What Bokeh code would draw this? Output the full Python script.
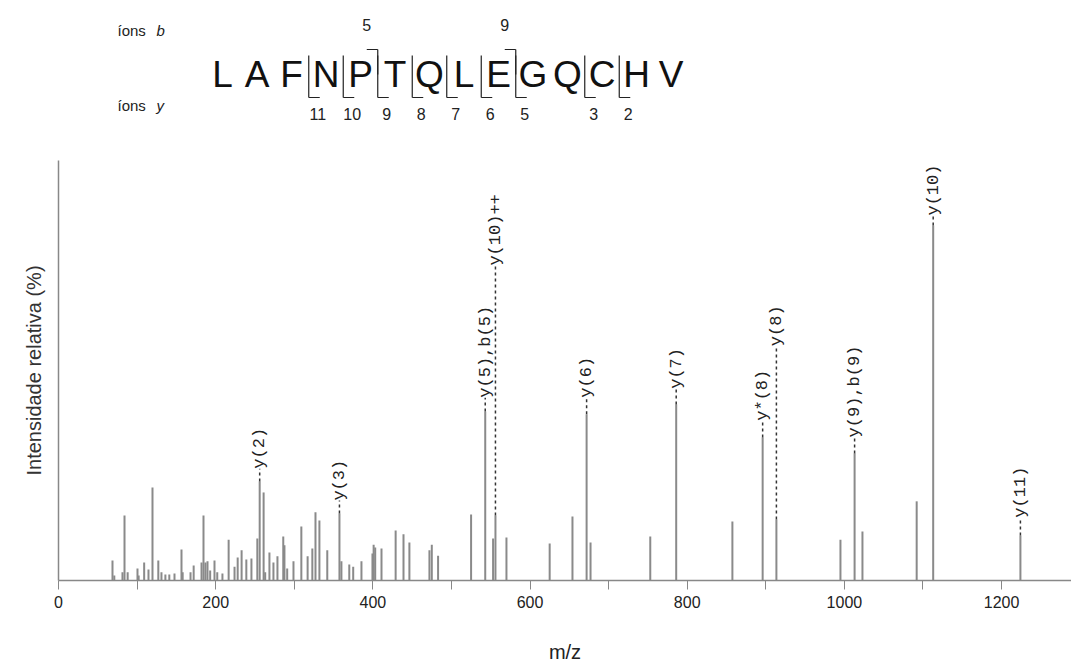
import math
from bokeh.plotting import figure
from bokeh.models import Range1d, FixedTicker
from bokeh.layouts import column
from bokeh.embed import file_html
from bokeh.resources import INLINE
from bokeh.core.properties import value

# ---------------- data ----------------
sequence = list("LAFNPTQLEGQCHV")
b_ions = [5, 9]
y_ions = [11, 10, 9, 8, 7, 6, 5, 3, 2]

mz = [68.7, 71, 81.4, 84, 88, 100.5, 102, 109, 114.5, 119.6, 127, 131, 136, 141, 147.6,
      156.5, 158, 168, 172, 182, 184.5, 187, 189.6, 193, 198.5, 202, 208.6, 216.5, 224,
      228, 233, 239, 245.5, 253, 256, 261, 263, 268.4, 273.5, 278.6, 286, 287.5, 291,
      299, 309, 317, 323, 327, 332, 342, 357.5, 360, 370, 375, 385.5, 399.5, 401, 403,
      411, 429, 439, 446.5, 472, 475, 483, 525, 543, 553, 556, 570, 625, 654, 672, 677,
      753, 786, 857.5, 896, 913.5, 995, 1013, 1023, 1092, 1113, 1224]
intensity = [5.6, 1.4, 2.3, 18.3, 2.3, 3.4, 1.4, 5.1, 3.1, 26.2, 5.6, 2.3, 1.7, 1.7, 2.0,
             8.7, 2.3, 2.3, 4.2, 5.1, 18.3, 5.1, 5.4, 2.8, 5.6, 2.3, 2.0, 11.5, 3.9,
             6.5, 8.5, 5.9, 6.2, 11.8, 27.9, 24.8, 2.3, 7.9, 5.1, 6.8, 12.4, 9.9, 3.4,
             5.4, 15.2, 6.8, 9.0, 19.2, 16.9, 8.5, 18.9, 5.4, 4.5, 3.9, 5.4, 7.6, 10.1, 9.3,
             9.0, 14.1, 13.0, 10.7, 8.5, 10.1, 7.0, 18.6, 47.6, 11.8, 18.3, 12.1, 10.4, 18.0, 46.8, 10.7,
             12.4, 49.6, 16.6, 40.3, 17.2, 11.5, 35.8, 13.8, 22.3, 100.0, 12.7]

ann_labels = ["y(2)", "y(3)", "y(5),b(5)", "y(10)++", "y(6)", "y(7)", "y*(8)", "y(8)",
              "y(9),b(9)", "y(10)", "y(11)"]
ann_mz = [256, 357.5, 543, 556, 672, 786, 896, 913.5, 1013, 1113, 1224]

x_ticks = [0, 100, 200, 300, 400, 500, 600, 700, 800, 900, 1000, 1100, 1200]
x_tick_labels = ["0", "", "200", "", "400", "", "600", "", "800", "", "1000", "", "1200"]

# ---------------- layout constants ----------------
W = 1071
HDR_H = 140
LEFT = 58
label_start = [31.5, 22.5, 51.5, 88.7, 51.5, 54.0, 45.0, 66.0, 40.3, 102.8, 17.7]

lookup = dict(zip(mz, intensity))
ann_int = [lookup[m] for m in ann_mz]

# ---------------- header (sequence) ----------------
# frame spans page pixels LEFT..W so that x coordinates are page pixels
hdr = figure(width=W, height=HDR_H, x_range=Range1d(LEFT, W), y_range=Range1d(HDR_H, 0),
             toolbar_location=None, output_backend="svg",
             min_border_left=LEFT, min_border_right=0, min_border_top=0, min_border_bottom=0,
             x_axis_location=None, y_axis_location=None)
hdr.grid.visible = False
hdr.outline_line_color = None

step = 34.5
x0 = 222
xs = [x0 + step * i for i in range(len(sequence))]
hdr.text(x=xs, y=[74] * len(xs), text=sequence, text_align="center", text_baseline="middle",
         text_font=value("Liberation Sans"), text_font_size="37px", text_color="#111111")

txt_kw = dict(text_baseline="middle", text_font=value("Liberation Sans"),
              text_font_size="15px", text_color="#222222")
hdr.text(x=[117, 117], y=[30, 105], text=["íons", "íons"], text_align="left", **txt_kw)
hdr.text(x=[156, 156], y=[30, 105], text=["b", "y"], text_align="left",
         text_font_style="italic", **txt_kw)

# y-ion brackets
n = len(sequence)
vx0, vy0, vx1, vy1 = [], [], [], []
lab_x, lab_t = [], []
for k in y_ions:
    idx = n - k
    bx = xs[idx] - step / 2
    vx0 += [bx, bx]; vy0 += [55, 97]; vx1 += [bx, bx + 11]; vy1 += [97, 97]
    lab_x.append(bx + 9); lab_t.append(str(k))
hdr.segment(x0=vx0, y0=vy0, x1=vx1, y1=vy1, line_color="#222222", line_width=1.2)
hdr.text(x=lab_x, y=[113] * len(lab_x), text=lab_t, text_align="center", text_baseline="middle",
         text_font=value("Liberation Sans"), text_font_size="16px", text_color="#222222")

# b-ion brackets
bx0, by0, bx1, by1 = [], [], [], []
blab_x, blab_t = [], []
for k in b_ions:
    bx = xs[k - 1] + step / 2
    bx0 += [bx, bx - 11]; by0 += [49, 49]; bx1 += [bx, bx]; by1 += [74, 49]
    blab_x.append(bx - 11); blab_t.append(str(k))
hdr.segment(x0=bx0, y0=by0, x1=bx1, y1=by1, line_color="#222222", line_width=1.2)
hdr.text(x=blab_x, y=[24] * len(blab_x), text=blab_t, text_align="center", text_baseline="middle",
         text_font=value("Liberation Sans"), text_font_size="16px", text_color="#222222")

# ---------------- spectrum ----------------
p = figure(width=W, height=671 - HDR_H, x_range=Range1d(0, 1289), y_range=Range1d(0, 118.3),
           toolbar_location=None, output_backend="svg",
           min_border_left=LEFT, min_border_right=0, min_border_top=20, min_border_bottom=91,
           x_axis_label="m/z", y_axis_label="Intensidade relativa (%)")
p.grid.visible = False
p.outline_line_color = None

p.segment(x0=mz, y0=[0] * len(mz), x1=mz, y1=intensity, line_color="#8a8a8a", line_width=2)

p.segment(x0=ann_mz, y0=ann_int, x1=ann_mz, y1=label_start, line_color="#333333",
          line_width=1.5, line_dash="3 3")
p.text(x=ann_mz, y=label_start, text=ann_labels, angle=math.pi / 2, text_align="left",
       text_baseline="middle", text_font=value("Liberation Mono"), text_font_size="17px",
       text_color="#222222")

xa = p.xaxis[0]
xa.ticker = FixedTicker(ticks=x_ticks)
xa.major_label_overrides = {t: l for t, l in zip(x_ticks, x_tick_labels)}
xa.minor_tick_line_color = None
xa.major_tick_out = 9
xa.major_tick_in = 0
xa.major_tick_line_color = "#888888"
xa.axis_line_color = "#888888"
xa.axis_line_width = 1.5
xa.major_label_text_font = "Liberation Sans"
xa.major_label_text_font_size = "16px"
xa.major_label_text_color = "#222222"
xa.major_label_standoff = 6
xa.axis_label_text_font = "Liberation Sans"
xa.axis_label_text_font_size = "20px"
xa.axis_label_text_font_style = "normal"
xa.axis_label_text_color = "#222222"
xa.axis_label_standoff = 30

ya = p.yaxis[0]
ya.ticker = FixedTicker(ticks=[])
ya.major_tick_line_color = None
ya.minor_tick_line_color = None
ya.major_label_text_font_size = "0px"
ya.axis_line_color = "#888888"
ya.axis_line_width = 1.5
ya.axis_label_text_font = "Liberation Sans"
ya.axis_label_text_font_size = "20px"
ya.axis_label_text_font_style = "normal"
ya.axis_label_text_color = "#333333"
ya.axis_label_standoff = 14

layout = column(hdr, p)
open("out.html", "w").write(file_html(layout, INLINE))
